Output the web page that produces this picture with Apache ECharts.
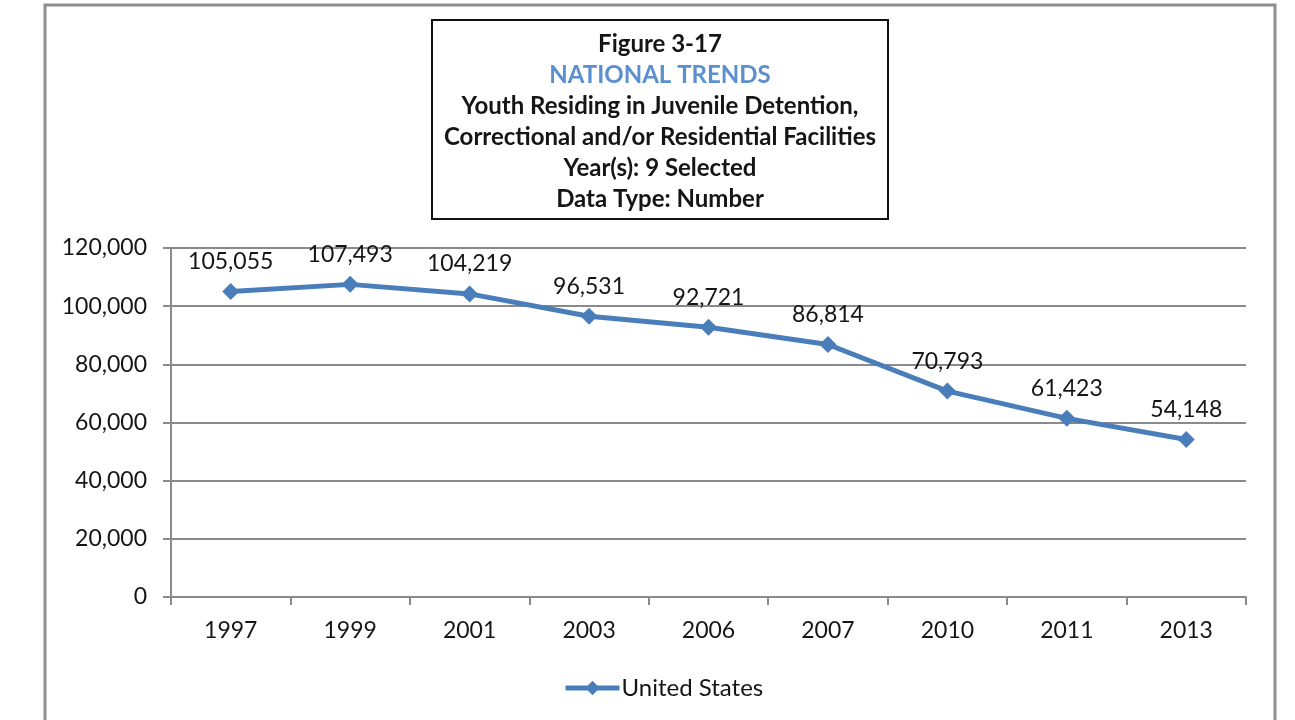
<!DOCTYPE html>
<html>
<head>
<meta charset="utf-8">
<script src="https://cdn.jsdelivr.net/npm/echarts@6/dist/echarts.min.js"></script>
<style>
  html, body { margin: 0; padding: 0; background: #fff; }
  #chart { width: 1295px; height: 720px; }
</style>
</head>
<body>
<div id="chart"></div>
<script>
// Youth residing in juvenile facilities, United States, selected years
const years = ['1997', '1999', '2001', '2003', '2006', '2007', '2010', '2011', '2013'];
const unitedStates = [105055, 107493, 104219, 96531, 92721, 86814, 70793, 61423, 54148];
const yTicks = { min: 0, max: 120000, interval: 20000 };
const titleLines = [
  'Figure 3-17',
  'NATIONAL TRENDS',
  'Youth Residing in Juvenile Detention,',
  'Correctional and/or Residential Facilities',
  'Year(s): 9 Selected',
  'Data Type: Number'
];

const fmt = v => Number(v).toLocaleString('en-US');
const FONT = 'Lato';
const BLUE = '#4a7ebb';
const GRID_GRAY = '#8a8a8a';
const TEXT = '#151515';

const chart = echarts.init(document.getElementById('chart'));
chart.setOption({
  backgroundColor: '#fff',
  animation: false,
  textStyle: { fontFamily: FONT },
  title: {
    left: 660,
    top: 29,
    padding: 0,
    textAlign: 'center',
    text: [
      '{h|' + titleLines[0] + '}',
      '{n|' + titleLines[1] + '}',
      '{h|' + titleLines[2] + '}',
      '{h|' + titleLines[3] + '}',
      '{h|' + titleLines[4] + '}',
      '{h|' + titleLines[5] + '}'
    ].join('\n'),
    textStyle: {
      rich: {
        h: { fontFamily: FONT, fontWeight: 'bold', fontSize: 24, color: TEXT, lineHeight: 31, align: 'center' },
        n: { fontFamily: FONT, fontWeight: 'bold', fontSize: 24, color: '#5b8fd0', lineHeight: 31, align: 'center' }
      }
    }
  },
  graphic: [
    {
      type: 'rect',
      shape: { x: 45, y: 5, width: 1230, height: 730 },
      style: { fill: 'none', stroke: '#8f8f8f', lineWidth: 3 },
      silent: true,
      z: -1
    },
    {
      type: 'rect',
      shape: { x: 432, y: 20, width: 456, height: 199 },
      style: { fill: 'none', stroke: '#111', lineWidth: 2 },
      silent: true
    }
  ],
  legend: {
    left: 558,
    top: 671,
    itemWidth: 54,
    itemHeight: 18,
    itemGap: 4,
    lineStyle: { width: 5, color: BLUE },
    textStyle: { fontFamily: FONT, fontSize: 24, color: TEXT, padding: [0, 0, 0, -3] },
    data: ['United States']
  },
  grid: { left: 171, right: 49, top: 248, bottom: 123 },
  xAxis: {
    type: 'category',
    data: years,
    boundaryGap: true,
    axisLine: { lineStyle: { color: GRID_GRAY, width: 2 } },
    axisTick: { show: true, length: 8, alignWithLabel: false, lineStyle: { color: GRID_GRAY, width: 2 } },
    axisLabel: { margin: 22, fontFamily: FONT, fontSize: 23, color: TEXT }
  },
  yAxis: {
    type: 'value',
    min: yTicks.min,
    max: yTicks.max,
    interval: yTicks.interval,
    axisLine: { show: true, lineStyle: { color: GRID_GRAY, width: 2 } },
    axisTick: { show: true, length: 8, lineStyle: { color: GRID_GRAY, width: 2 } },
    splitLine: { lineStyle: { color: GRID_GRAY, width: 2 } },
    axisLabel: { margin: 24, fontFamily: FONT, fontSize: 23, color: TEXT, formatter: fmt }
  },
  series: [{
    name: 'United States',
    type: 'line',
    data: unitedStates,
    symbol: 'diamond',
    symbolSize: 17,
    lineStyle: { color: BLUE, width: 5 },
    itemStyle: { color: BLUE },
    label: {
      show: true,
      position: 'top',
      distance: 10,
      fontFamily: FONT,
      fontSize: 23,
      color: TEXT,
      formatter: p => fmt(p.value)
    }
  }]
});
</script>
</body>
</html>
